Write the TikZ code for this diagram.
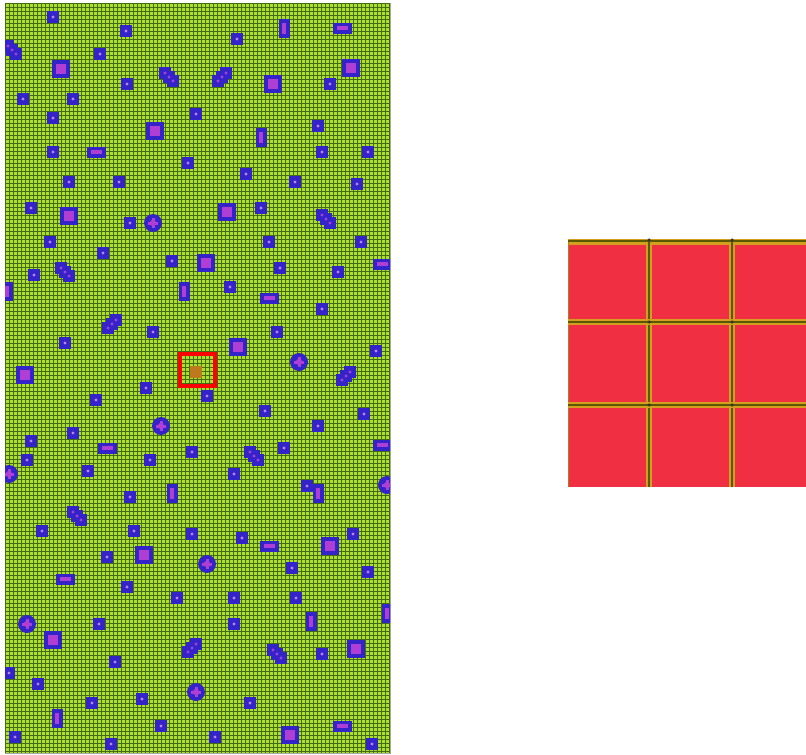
\documentclass[tikz,border=0pt]{standalone}
\usepackage{tikz}
\definecolor{matrixgreen}{RGB}{176,222,44}
\definecolor{gridgreen}{RGB}{66,108,16}
\definecolor{poreblue}{RGB}{50,36,200}
\definecolor{coremagenta}{RGB}{175,62,212}
\definecolor{dotlilac}{RGB}{195,130,235}
\definecolor{tilered}{RGB}{240,48,66}
\definecolor{seamorange}{RGB}{212,158,30}
\definecolor{seamolive}{RGB}{90,88,0}
\definecolor{cellbrown}{RGB}{190,120,30}
\tikzset{ %all lengths below are pixels of the figure
  {matrix panel/.style} ={fill=matrixgreen,draw=gray!70,line width=.6pt},
  {grid line/.style} ={gridgreen,line width=1pt},
  {inclusion/.style} ={fill=poreblue},
  {core/.style} ={fill=coremagenta},
  {dot/.style} ={fill=dotlilac},
  {zoom box/.style} ={draw=red,line width=4pt},
  {zoom cell/.style} ={fill=cellbrown},
  {tile panel/.style} ={fill=tilered},
  {seam/.style} ={seamorange,line width=6pt},
  {seam core/.style} ={seamolive,line width=2pt},
  {seam knot/.style} ={circle,fill=black!80,inner sep=0,minimum size=3.5pt},
}
\begin{document}
\begin{tikzpicture}[x=1pt,y=-1pt]
\useasboundingbox (0,0) rectangle (806,755);
% matrix with grid
\path[matrix panel] (5,3) rectangle (390,753);
\foreach \i in {0,...,96}
  \draw[grid line] ({5.5+4*\i},3) -- ++(0,750);
\foreach \j in {0,...,187}
  \draw[grid line] (5,{3.5+4*\j}) -- ++(385,0);
\begin{scope}
\clip (5,3) rectangle (390,753);
% single inclusions
\foreach \x/\y in {53/17,126/31,100/54,127/84,237/39,330/84,23/99,73/99,53/118,
    196/114,318/126,53/152,188/163,322/152,368/152,69/182,119/182,246/174,295/182,
    357/184,31/208,130/223,261/208,50/242,103/253,172/261,269/242,361/242,34/275,
    230/287,280/268,338/272,322/309,153/332,277/332,65/343,376/351,146/388,96/400,
    207/396,265/411,364/414,73/433,318/426,31/441,192/452,284/448,27/460,150/460,
    88/471,234/474,307/486,130/497,42/531,134/531,192/534,242/538,353/534,107/557,
    292/568,368/572,127/587,177/598,234/598,296/598,99/624,234/624,322/654,115/662,
    9/673,38/684,92/703,142/699,250/703,161/726,15/737,215/737,111/744,372/744}
  {\fill[inclusion] (\x-5.8,\y-5.8) rectangle ++(11.6,11.6);
   \fill[dot] (\x,\y) circle (1.6);}
% large square inclusions
\foreach \x/\y in {61/69,273/84,351/68,155/131,69/216,227/212,206/263,238/347,
    25/375,330/546,144/555,53/640,356/649,290/735}
  {\fill[inclusion] (\x-9.2,\y-9.2) rectangle ++(18.4,18.4);
   \fill[core] (\x-5,\y-5) rectangle ++(10,10);}
% horizontal rods
\foreach \x/\y in {342/28,96/152,382/264,269/298,107/448,382/445,269/546,65/579,342/726}
  {\fill[inclusion] (\x-9.5,\y-5.5) rectangle ++(19,11);
   \fill[core] (\x-5.5,\y-1.6) rectangle ++(11,3.2);}
% vertical rods
\foreach \x/\y in {284/28,261/137,7/291,184/291,172/493,318/493,387/613,311/621,57/718}
  {\fill[inclusion] (\x-5.5,\y-9.5) rectangle ++(11,19);
   \fill[core] (\x-1.6,\y-5.5) rectangle ++(3.2,11);}
% diagonal chains, falling
\foreach \x/\y in {12/50,169/77,326/219,65/272,254/456,77/516,277/654}
  {\foreach \d in {-4,0,4}
     \fill[inclusion] (\x+\d-6,\y+\d-6) rectangle ++(12,12);
   \foreach \d in {-4,0,4}
     \fill[core] (\x+\d,\y+\d) circle (1.6);}
% diagonal chains, rising
\foreach \x/\y in {222/77,112/324,346/376,192/648}
  {\foreach \d in {-4,0,4}
     \fill[inclusion] (\x+\d-6,\y-\d-6) rectangle ++(12,12);
   \foreach \d in {-4,0,4}
     \fill[core] (\x+\d,\y-\d) circle (1.6);}
% round inclusions
\foreach \x/\y in {153/223,299/362,161/426,9/474,387/485,207/564,27/624,196/692}
  {\fill[inclusion] (\x,\y) circle (9);
   \fill[core] (\x,\y) circle (3.2);
   \fill[core] (\x-5,\y-1.5) rectangle ++(10,3);
   \fill[core] (\x-1.5,\y-5) rectangle ++(3,10);}
\end{scope}
% selected cell
\fill[zoom cell] (190,366) rectangle (202,378);
\draw[zoom box] (180,354) rectangle (215,386);
% magnified cells
\path[tile panel] (568,240) rectangle (806,487);
\draw[seam] (568,241.5) -- (806,241.5);
\draw[seamorange!80!black,line width=1.4pt] (568.7,240) -- (568.7,487);
\foreach \x in {649,732}
  {\draw[seam] (\x,240) -- (\x,487);
   \draw[seam core] (\x,240) -- (\x,487);}
\foreach \y in {322,405}
  {\draw[seam] (568,\y) -- (806,\y);
   \draw[seam core] (568,\y) -- (806,\y);}
\draw[seam core] (568,240.6) -- (806,240.6);
\foreach \x in {649,732}
  \foreach \y in {240,322,405}
    \node[seam knot] (k\x-\y) at (\x,\y) {};
\end{tikzpicture}
\end{document}
